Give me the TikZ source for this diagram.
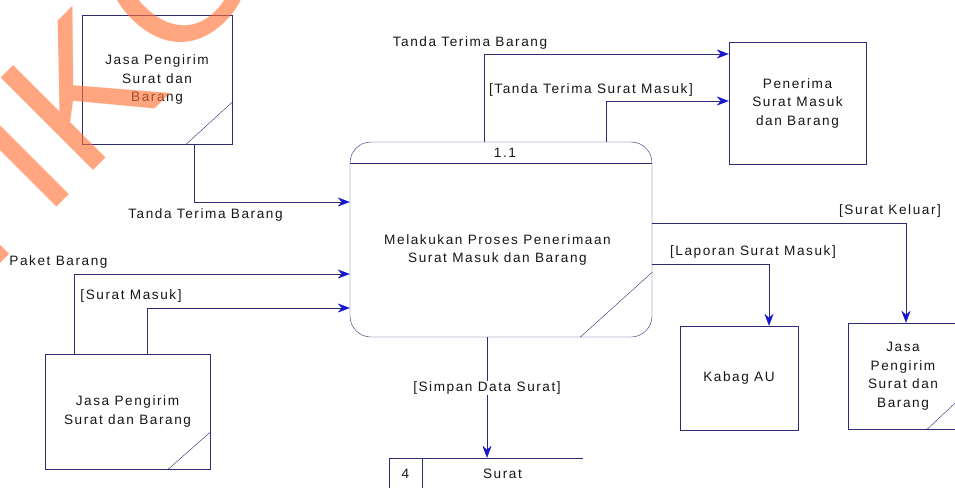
\documentclass[tikz,border=0pt]{standalone}
\usepackage{fontspec}
\setmainfont{Liberation Sans}
\newfontfamily\dfdfont{Liberation Sans}[LetterSpace=11.5]
\newcommand\dfdteks{\dfdfont\fontsize{13.6}{18.5}\selectfont}
\usepackage{tikz}
\usetikzlibrary{positioning}
\usetikzlibrary{shapes,calc,arrows.meta}
\definecolor{garis}{RGB}{44,44,118}
\definecolor{panah}{RGB}{22,22,210}
\definecolor{teks}{RGB}{22,22,22}
\definecolor{tanda}{RGB}{255,112,52}
\tikzset{
	x=1pt, y=-1pt,
	line width=1.5pt,
	entitas/.style = {rectangle, draw=garis, inner sep=2pt, align=center,
		text=teks, font=\dfdteks},
	proses/.style = {rectangle, rounded corners=21pt, draw=garis,
		minimum width=302pt, minimum height=195pt},
	aliran/.style = {draw=garis, -{Stealth[length=12pt,width=9pt,inset=4pt,color=panah]}},
	ket/.style = {inner sep=1pt, text=teks, font=\dfdteks, align=center},
	simpan/.style = {inner sep=0pt, minimum height=32pt, text=teks, font=\dfdteks},
	coret/.style = {draw=garis},
	tanda/.style = {rotate=45, inner sep=0pt, text=tanda, text opacity=0.62,
		font=\fontsize{190}{190}\selectfont},
}

\begin{document}
\begin{tikzpicture}
	\useasboundingbox (0,0) rectangle (955,487);
	\node[entitas, minimum width=150pt, minimum height=129pt] (JasaAtas) at (157,79.5) {Jasa Pengirim\\Surat dan\\Barang};
	\node[entitas, minimum width=137pt, minimum height=122pt] (Penerima) at (797.5,103) {Penerima\\Surat Masuk\\dan Barang};
	\node[entitas, minimum width=165pt, minimum height=115pt] (JasaBawah) at (127.5,411.5) {Jasa Pengirim\\Surat dan Barang};
	\node[entitas, minimum width=118pt, minimum height=104pt] (Kabag) at (739,378) {Kabag AU};
	\node[entitas, minimum width=110pt, minimum height=106pt] (JasaKanan) at (903,376) {Jasa\\Pengirim\\Surat dan\\Barang};
	\node[proses] (Proses) at (501,239.5) {};
	\node[ket] (ProsesNo) at (505,153) {1.1};
	\node[ket] (ProsesNama) at (497.5,250) {Melakukan Proses Penerimaan\\Surat Masuk dan Barang};
	\node[simpan, minimum width=33pt] (NoSurat) at (405.5,474) {4};
	\node[simpan, minimum width=161pt] (Surat) at (502.5,474) {Surat};

	\draw[coret] (Proses.west |- 0,163) -- (Proses.east |- 0,163);
	\draw[coret] ([xshift=-72pt]Proses.south east) -- ([yshift=65pt]Proses.south east);
	\draw[coret] ([xshift=-46pt]JasaAtas.south east) -- ([yshift=42pt]JasaAtas.south east);
	\draw[coret] ([xshift=-42pt]JasaBawah.south east) -- ([yshift=37pt]JasaBawah.south east);
	\draw[coret] ([xshift=-31pt]JasaKanan.south east) -- ([yshift=29pt]JasaKanan.south east);
	\draw[coret] (Surat.north east) -- (NoSurat.north west) -- (NoSurat.south west);
	\draw[coret] (NoSurat.north east) -- (NoSurat.south east);

	\draw[aliran] (194,0 |- JasaAtas.south) |- (Proses.west |- 0,202);
	\draw[aliran] (484,0 |- Proses.north) |- (Penerima.west |- 0,54);
	\draw[aliran] (606,0 |- Proses.north) |- (Penerima.west |- 0,101);
	\draw[aliran] (74,0 |- JasaBawah.north) |- (Proses.west |- 0,274);
	\draw[aliran] (147,0 |- JasaBawah.north) |- (Proses.west |- 0,308);
	\draw[aliran] (Proses.east |- 0,223) -| (906,0 |- JasaKanan.north);
	\draw[aliran] (Proses.east |- 0,264) -| (769,0 |- Kabag.north);
	\draw[aliran] (487,0 |- Proses.south) -- (487,0 |- Surat.north);

	\node[ket] (KetTTB1) at (205.5,215) {Tanda Terima Barang};
	\node[ket] (KetTTB2) at (470,43) {Tanda Terima Barang};
	\node[ket] (KetTTSM) at (591,90) {[Tanda Terima Surat Masuk]};
	\node[ket] (KetPaket) at (58.5,262) {Paket Barang};
	\node[ket] (KetSM) at (131,296) {[Surat Masuk]};
	\node[ket] (KetSK) at (890,211) {[Surat Keluar]};
	\node[ket] (KetLSM) at (753,252) {[Laporan Surat Masuk]};
	\node[ket, fill=white] (KetSDS) at (487,388) {[Simpan Data Surat]};

	\node[tanda, anchor=base west] (TandaA) at (-127,391) {STIK};
	\node[tanda, anchor=center] (TandaB) at (178,-26) {O};
\end{tikzpicture}
\end{document}
